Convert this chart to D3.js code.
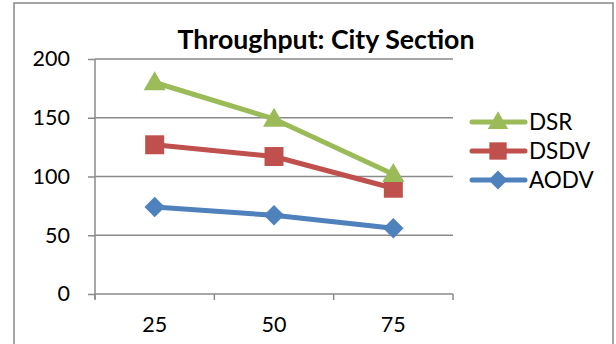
<!DOCTYPE html>
<html><head><meta charset="utf-8">
<script src="https://cdn.jsdelivr.net/npm/d3@7"></script>
<style>body{margin:0;background:#fff}svg{display:block}text{font-family:Lato,"Open Sans",sans-serif;fill:#000}</style>
</head><body><svg id="c" width="616" height="344"></svg>
<script>
const categories = ["25", "50", "75"];
const yTicks = [0, 50, 100, 150, 200];
const seriesNames = ["DSR", "DSDV", "AODV"];
const dsr = [180, 149, 102];
const dsdv = [127, 117, 90];
const aodv = [74, 67, 56];
const colors = ["#9BBB59", "#C0504D", "#4F81BD"];
const shapes = [d3.symbolTriangle, d3.symbolSquare, d3.symbolSquare];
const rot = [0, 0, 45];

const svg = d3.select("#c");
svg.append("rect").attr("x",14).attr("y",3).attr("width",599).attr("height",400)
  .attr("fill","#fff").attr("stroke","#888").attr("stroke-width",1.5);

const x = d3.scaleBand().domain(categories).range([95,453]);
const y = d3.scaleLinear().domain([0,200]).range([294,59]);

// gridlines
svg.append("g").selectAll("line").data(yTicks.filter(d=>d>0)).join("line")
  .attr("x1",95).attr("x2",453).attr("y1",d=>y(d)).attr("y2",d=>y(d))
  .attr("stroke","#8a8a8a").attr("stroke-width",1.5);

// y axis
const ya = svg.append("g").attr("transform","translate(95,0)")
  .call(d3.axisLeft(y).tickValues(yTicks).tickSize(7).tickPadding(18));
ya.selectAll("path,line").attr("stroke","#8a8a8a").attr("stroke-width",1.5);
ya.select(".domain").attr("d","M0,"+y(200)+"V"+(y(0)+5));
ya.selectAll("text").attr("font-size",21.5).attr("font-family","Lato").attr("fill","#000");

// x axis
const xa = svg.append("g").attr("transform","translate(0,294)")
  .call(d3.axisBottom(x).tickSize(0).tickPadding(23));
xa.select(".domain").attr("stroke","#8a8a8a").attr("stroke-width",1.5).attr("d","M95,0H453");
xa.selectAll("text").attr("font-size",21.5).attr("font-family","Lato").attr("fill","#000");
const bounds = categories.map(c=>x(c)).concat([453]);
xa.selectAll(".bt").data(bounds).join("line").attr("class","bt")
  .attr("x1",d=>d).attr("x2",d=>d).attr("y1",0).attr("y2",6)
  .attr("stroke","#8a8a8a").attr("stroke-width",1.5);

// series
const data = [dsr, dsdv, aodv];
const cx = c => x(c) + x.bandwidth()/2;
const line = d3.line().x((d,i)=>cx(categories[i])).y(d=>y(d));
const order = [2,1,0];
const sizes = [210, 360, 210];
order.forEach(s=>{
  const g = svg.append("g");
  g.append("path").attr("d",line(data[s])).attr("fill","none")
    .attr("stroke",colors[s]).attr("stroke-width",5).attr("stroke-linejoin","round").attr("stroke-linecap","round");
  g.selectAll("path.m").data(data[s]).join("path").attr("class","m")
    .attr("d",d3.symbol().type(shapes[s]).size(sizes[s]))
    .attr("transform",(d,i)=>`translate(${cx(categories[i])},${y(d) + (s===0?1.5:0)}) rotate(${rot[s]})`)
    .attr("fill",colors[s]);
});

// legend
const leg = svg.append("g");
const ly = [122,151,180];
const lsizes = [180, 300, 180];
seriesNames.forEach((n,i)=>{
  leg.append("line").attr("x1",472).attr("x2",525).attr("y1",ly[i]).attr("y2",ly[i])
    .attr("stroke",colors[i]).attr("stroke-width",5).attr("stroke-linecap","round");
  leg.append("path").attr("d",d3.symbol().type(shapes[i]).size(lsizes[i])())
    .attr("transform",`translate(498,${ly[i] + (i===0?1:0)}) rotate(${rot[i]})`).attr("fill",colors[i]);
  leg.append("text").attr("x",529).attr("y",ly[i]).attr("dy","0.36em")
    .attr("font-size",22.5).text(n);
});

// title
const t = svg.append("text").attr("x",326).attr("y",49).attr("text-anchor","middle")
  .attr("font-weight","bold").attr("font-size",22).text("Throughput: City Section");
const w = t.node().getComputedTextLength();
t.attr("font-size", 22*297/w);
</script></body></html>
